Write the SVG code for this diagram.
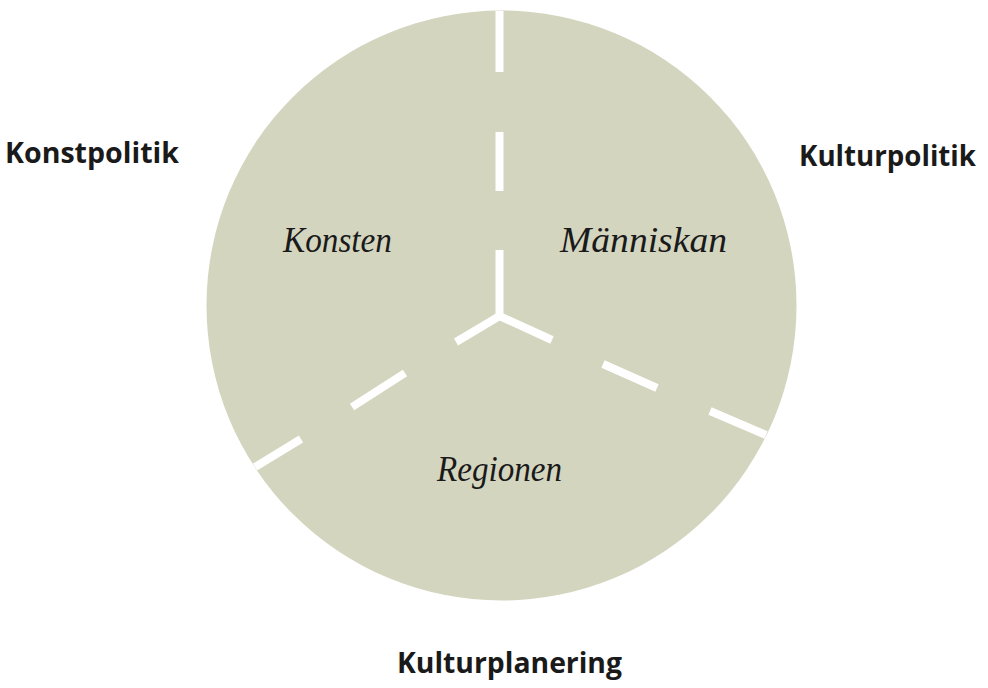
<svg xmlns="http://www.w3.org/2000/svg" width="988" height="688" viewBox="0 0 988 688">
<style>
.bold{font-family:"Open Sans","Liberation Sans",sans-serif;font-weight:bold;font-size:28px;fill:#1a1a1a}
.ital{font-family:"Liberation Serif",serif;font-style:italic;font-size:36px;fill:#1a1a1a}
.dash{stroke:#ffffff;stroke-width:8;stroke-linecap:butt;fill:none}
</style>
<rect width="988" height="688" fill="#ffffff"/>
<g id="circle">
<circle cx="501.5" cy="305.5" r="295" fill="#d4d5bf"/>
</g>
<g id="connectors">
<line class="dash" x1="499.5" y1="11" x2="499.5" y2="72"/>
<line class="dash" x1="499.5" y1="132" x2="499.5" y2="191"/>
<line class="dash" x1="499.5" y1="250" x2="499.5" y2="318"/>
<polyline class="dash" points="456,342 499.5,316 552,340"/>
<line class="dash" x1="405" y1="373" x2="352" y2="407"/>
<line class="dash" x1="301" y1="439" x2="255" y2="467"/>
<line class="dash" x1="603" y1="364" x2="657" y2="388"/>
<line class="dash" x1="710" y1="411" x2="766" y2="435"/>
</g>
<g id="konsten"><text class="ital" x="283" y="252" textLength="109" lengthAdjust="spacingAndGlyphs">Konsten</text></g>
<g id="manniskan"><text class="ital" x="560" y="252" textLength="167" lengthAdjust="spacingAndGlyphs">Människan</text></g>
<g id="regionen"><text class="ital" x="437" y="481" textLength="125" lengthAdjust="spacingAndGlyphs">Regionen</text></g>
<g id="konstpolitik"><text class="bold" x="5" y="163" textLength="174" lengthAdjust="spacingAndGlyphs">Konstpolitik</text></g>
<g id="kulturpolitik"><text class="bold" x="799" y="166" textLength="177" lengthAdjust="spacingAndGlyphs">Kulturpolitik</text></g>
<g id="kulturplanering"><text class="bold" x="397" y="673" textLength="225" lengthAdjust="spacingAndGlyphs">Kulturplanering</text></g>
</svg>
